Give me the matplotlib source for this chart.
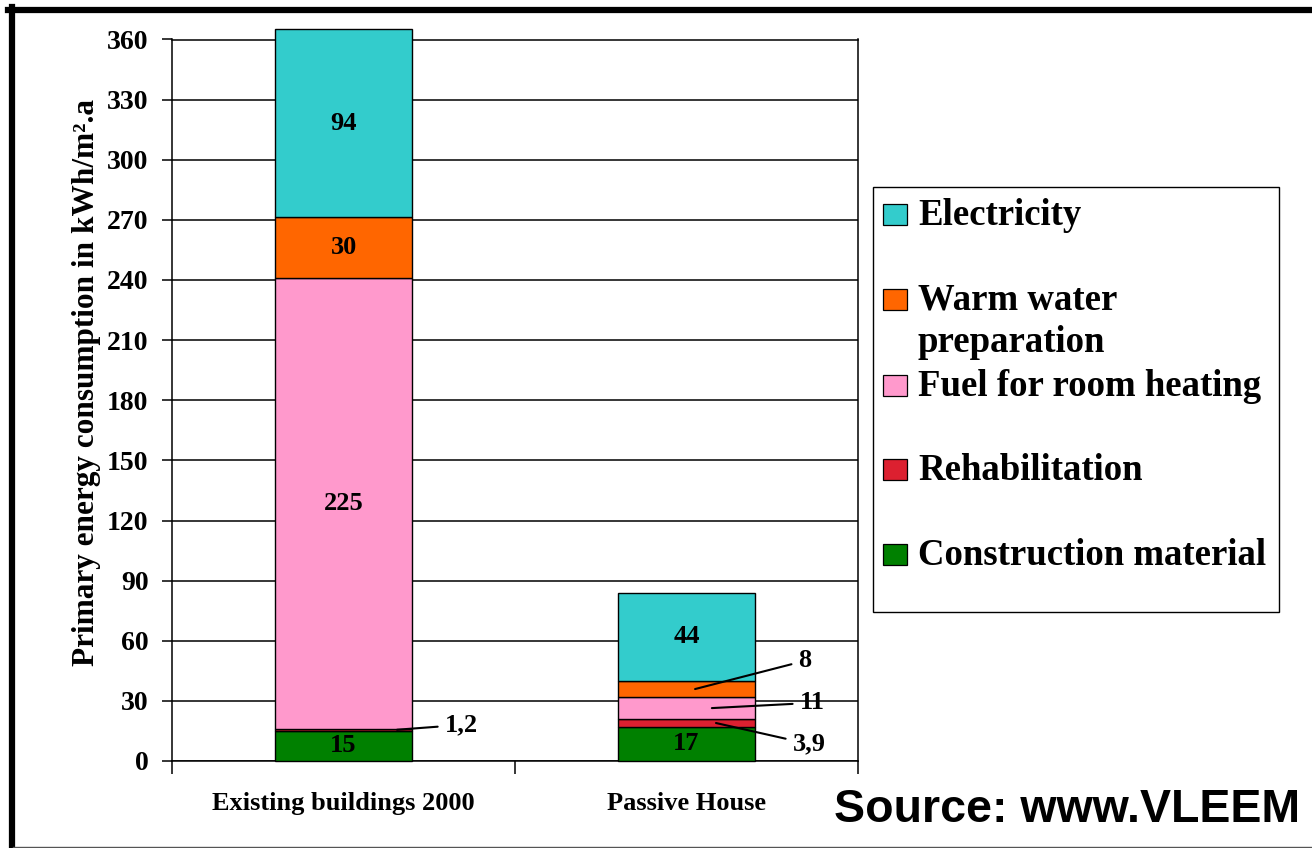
import matplotlib
matplotlib.use("Agg")
import matplotlib.pyplot as plt
from matplotlib.patches import Rectangle
from matplotlib.lines import Line2D

# ---- data ----
categories = ["Existing buildings 2000", "Passive House"]
series_names = ["Construction material", "Rehabilitation", "Fuel for room heating",
                "Warm water\npreparation", "Electricity"]
construction = [15, 17]
rehabilitation = [1.2, 3.9]
fuel_heating = [225, 11]
warm_water = [30, 8]
electricity = [94, 44]
colors = ["#008000", "#DC2030", "#FF99CC", "#FF6600", "#33CCCC"]
y_ticks = [0, 30, 60, 90, 120, 150, 180, 210, 240, 270, 300, 330, 360]

series = [construction, rehabilitation, fuel_heating, warm_water, electricity]

serif = ["Liberation Serif", "DejaVu Serif"]
plt.rcParams["font.family"] = serif
plt.rcParams["font.weight"] = "bold"

W, H = 1312, 848
fig = plt.figure(figsize=(W / 100, H / 100), dpi=100)
ax = fig.add_axes([172 / W, 1 - 761 / H, (858 - 172) / W, (761 - 39.5) / H])

x = list(range(len(categories)))
bottoms = [0.0] * len(categories)
for vals, col in zip(series, colors):
    ax.bar(x, vals, width=0.4, bottom=bottoms, color=col, edgecolor="black",
           linewidth=1.0, zorder=3, clip_on=False)
    bottoms = [b + v for b, v in zip(bottoms, vals)]

ax.set_xlim(-0.5, 1.5)
ax.set_ylim(0, 360)
ax.set_yticks(y_ticks)
ax.set_yticklabels([str(t) for t in y_ticks], fontsize=20, fontweight="bold")
ax.yaxis.grid(True, color="black", linewidth=1.1, zorder=0)
ax.set_axisbelow(True)
ax.tick_params(axis="y", direction="out", length=7, width=1.1, pad=10)

# category ticks at boundaries, labels at centers
ax.set_xticks([-0.5, 0.5, 1.5])
ax.set_xticklabels([])
ax.tick_params(axis="x", which="major", direction="out", length=9, width=1.1)
ax.set_xticks(x, minor=True)
ax.set_xticklabels(categories, minor=True, fontsize=19, fontweight="bold")
ax.tick_params(axis="x", which="minor", length=0, pad=22)

for s in ["left", "bottom", "right", "top"]:
    ax.spines[s].set_linewidth(1.1)
    ax.spines[s].set_color("black")
ax.spines["top"].set_zorder(2)

ax.set_ylabel("Primary energy consumption in kWh/m\u00b2.a", fontsize=22.5,
              fontweight="bold")
ax.yaxis.set_label_coords((101 - 172) / (858 - 172), (761 - 382) / (761 - 39.5))

def fmt(v):
    return f"{v:g}".replace(".", ",")

# labels inside bars
def seg_mid(i, k):
    return sum(s[i] for s in series[:k]) + series[k][i] / 2

inside = [(0, 0), (0, 2), (0, 3), (0, 4), (1, 0), (1, 4)]
for i, k in inside:
    ax.text(x[i], seg_mid(i, k), fmt(series[k][i]), ha="center", va="center",
            fontsize=19, fontweight="bold", zorder=5)

# labels with leader lines: (category, series index, x of point, text pos)
outside = [(0, 1, 0.156, (0.343, 18.0)),
           (1, 3, 1.025, (1.345, 50.0)),
           (1, 2, 1.074, (1.366, 29.0)),
           (1, 1, 1.086, (1.357, 8.5))]
for i, k, px, (tx, ty) in outside:
    ax.annotate(fmt(series[k][i]), xy=(px, seg_mid(i, k)), xytext=(tx, ty),
                ha="center", va="center", fontsize=19, fontweight="bold",
                arrowprops=dict(arrowstyle="-", color="black", lw=1.5,
                                shrinkA=3, shrinkB=0),
                annotation_clip=False, zorder=6)

# ---- legend (drawn as a framed box in figure pixels) ----
def fx(px):
    return px / W

def fy(py):
    return 1 - py / H

fig.patches.append(Rectangle((fx(873), fy(612)), fx(1279) - fx(873), fy(187) - fy(612),
                             transform=fig.transFigure, facecolor="white",
                             edgecolor="black", linewidth=1.0))
legend_order = [4, 3, 2, 1, 0]
legend_y = [214, 299, 385, 469, 554]
for k, yy in zip(legend_order, legend_y):
    fig.patches.append(Rectangle((fx(883), fy(yy + 11)), fx(907) - fx(883), fy(yy - 10) - fy(yy + 11),
                                 transform=fig.transFigure, facecolor=colors[k],
                                 edgecolor="black", linewidth=0.9))
    fig.text(fx(918), fy(yy - 16), series_names[k], ha="left", va="top",
             fontsize=26.5, fontweight="bold", linespacing=1.25)

# ---- source note ----
fig.text(fx(834), fy(810), "Source: www.VLEEM", ha="left", va="center",
         fontsize=33.5, fontweight="bold", family=["Liberation Sans", "DejaVu Sans"])

# ---- outer frame ----
fig.lines.append(Line2D([fx(11.5), fx(11.5)], [fy(7), fy(848)], transform=fig.transFigure,
                        color="black", linewidth=4.5))
fig.lines.append(Line2D([fx(8), fx(1312)], [fy(10), fy(10)], transform=fig.transFigure,
                        color="black", linewidth=4.5))
fig.lines.append(Line2D([fx(13), fx(1312)], [fy(846.5), fy(846.5)], transform=fig.transFigure,
                        color="#555555", linewidth=1.0))

fig.savefig("out.png", dpi=100)
